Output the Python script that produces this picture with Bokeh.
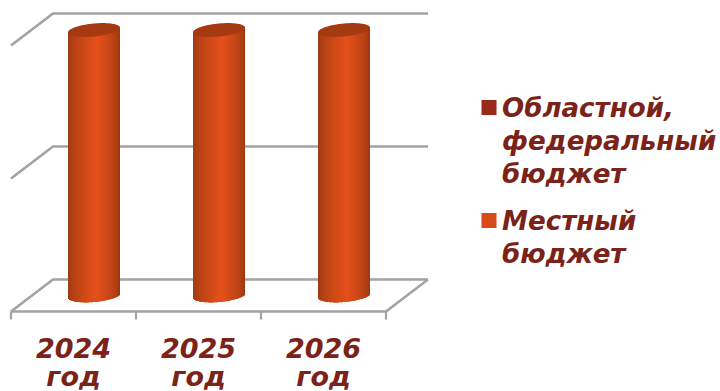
import math
from bokeh.plotting import figure
from bokeh.core.properties import value
from bokeh.embed import file_html
from bokeh.resources import INLINE

categories = ["2024", "2025", "2026"]
category_suffix = "год"
local_budget = [1.0, 1.0, 1.0]
regional_budget = [0.0, 0.0, 0.0]
grid_values = [0.0, 0.5, 1.0]
legend_labels = [["Областной,", "федеральный", "бюджет"], ["Местный", "бюджет"]]
legend_colors = ["#99291c", "#d84a17"]

TEXT = "#7b2318"
GRID = "#a3a3a3"
FONT = value("DejaVu Sans")
X0, STEP = 10.5, 125.0
FRONT_Y, TICK = 311.0, 8.0
DX, DY = 42.0, -32.0
V_SPAN = 266.0
BAR_W, RY, TILT = 52.0, 6.5, 0.09

p = figure(width=720, height=391, x_range=(0, 720), y_range=(391, 0),
           output_backend="svg", toolbar_location=None, min_border=0,
           outline_line_color=None)
p.axis.visible = False
p.grid.visible = False
p.background_fill_color = "white"

n = len(categories)
x_end = X0 + n * STEP

# walls and floor
for g in grid_values:
    y = FRONT_Y - g * V_SPAN
    p.line([X0, X0 + DX, x_end + DX], [y, y + DY, y + DY], line_color=GRID, line_width=2.6)
p.line([X0, x_end, x_end + DX], [FRONT_Y, FRONT_Y, FRONT_Y + DY], line_color=GRID, line_width=2.6)
for i in range(n + 1):
    x = X0 + i * STEP
    p.line([x, x], [FRONT_Y, FRONT_Y + TICK], line_color=GRID, line_width=2.2)

# cylinders
L = (0x98, 0x38, 0x10)
M = (0xe4, 0x4f, 0x1a)
R = (0x96, 0x36, 0x10)
def shade(t):
    if t < 0.55:
        k = (t / 0.55) ** 0.6
        a, b = L, M
    else:
        k = ((1 - t) / 0.45) ** 0.6
        a, b = R, M
    return "#%02x%02x%02x" % tuple(round(a[j] + (b[j] - a[j]) * k) for j in range(3))

for i, v in enumerate(local_budget):
    cx = X0 + (i + 0.5) * STEP + DX / 2 - 0.5
    base = FRONT_Y + DY / 2
    top = base - v * V_SPAN + 0.5
    xs0, xs1, ys0, ys1, cols = [], [], [], [], []
    m = int(BAR_W)
    for k in range(m):
        a = cx - BAR_W / 2 + k
        b = a + (1.0 if k == m - 1 else 2.0)
        u = (a + 0.5 - cx) / (BAR_W / 2)
        s = RY * math.sqrt(max(0, 1 - u * u))
        off = TILT * (a + 0.5 - cx)
        xs0.append(a); xs1.append(b)
        ys0.append(top - off)
        ys1.append(base - off + s)
        cols.append(shade((k + 0.5) / m))
    p.quad(left=xs0, right=xs1, top=ys0, bottom=ys1, fill_color=cols, line_color=None)
    tx, ty = [], []
    for k in range(73):
        th = 2 * math.pi * k / 72
        ex = BAR_W / 2 * math.cos(th)
        tx.append(cx + ex)
        ty.append(top - TILT * ex + RY * math.sin(th))
    p.patch(tx, ty, fill_color="#a53a10", line_color=None)
    p.text([X0 + (i + 0.5) * STEP], [347], text=[categories[i]], text_font=FONT, text_font_style="bold italic",
           text_font_size="27px", text_color=TEXT, text_align="center", text_baseline="middle")
    p.text([X0 + (i + 0.5) * STEP], [376], text=[category_suffix], text_font=FONT, text_font_style="bold italic",
           text_font_size="27px", text_color=TEXT, text_align="center", text_baseline="middle")

# legend
legend_y = [107, 220]
for color, lines, y0 in zip(legend_colors, legend_labels, legend_y):
    p.quad(left=[481], right=[496], top=[y0 - 7.5], bottom=[y0 + 7.5], fill_color=color, line_color=None)
    for j, line in enumerate(lines):
        p.text([501.5], [y0 + j * 33], text=[line], text_font=FONT, text_font_style="bold italic",
               text_font_size="26.1px", text_color=TEXT, text_align="left", text_baseline="middle")

open("out.html", "w").write(file_html(p, INLINE))
